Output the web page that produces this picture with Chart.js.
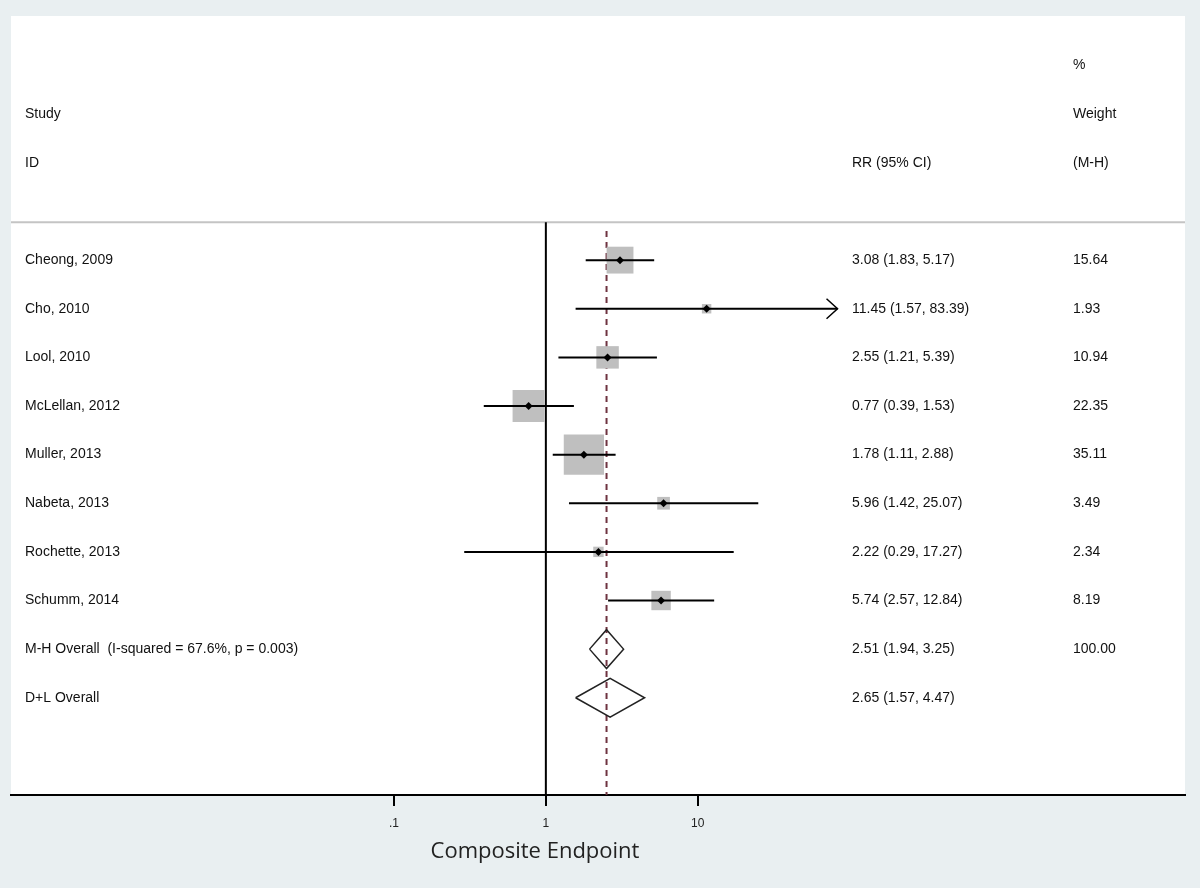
<!DOCTYPE html>
<html>
<head>
<meta charset="utf-8">
<script src="https://cdn.jsdelivr.net/npm/chart.js@4/dist/chart.umd.min.js"></script>
<style>
  html, body { margin: 0; padding: 0; background: #e9eff1; }
  canvas { display: block; }
</style>
</head>
<body>
<canvas id="forest" width="1200" height="888"></canvas>
<script>
const STUDIES = ['Cheong, 2009', 'Cho, 2010', 'Lool, 2010', 'McLellan, 2012', 'Muller, 2013', 'Nabeta, 2013', 'Rochette, 2013', 'Schumm, 2014'];
const RR = [3.08, 11.45, 2.55, 0.77, 1.78, 5.96, 2.22, 5.74];
const RR_LO = [1.83, 1.57, 1.21, 0.39, 1.11, 1.42, 0.29, 2.57];
const RR_HI = [5.17, 83.39, 5.39, 1.53, 2.88, 25.07, 17.27, 12.84];
const WEIGHTS = [15.64, 1.93, 10.94, 22.35, 35.11, 3.49, 2.34, 8.19];

const POOLED_LABELS = ['M-H Overall  (I-squared = 67.6%, p = 0.003)', 'D+L Overall'];
const POOLED_RR = [2.51, 2.65];
const POOLED_LO = [1.94, 1.57];
const POOLED_HI = [3.25, 4.47];
const POOLED_WEIGHTS = [100.00, null];

const X_TICKS = [0.1, 1, 10];
const X_TICK_LABELS = ['.1', '1', '10'];
const X_TITLE = 'Composite Endpoint';

// metan puts an arrowhead on CIs that run past this
const CI_ARROW_ABOVE = 50;

const BG = '#e9eff1';
const BOX_GREY = '#bfbfbf';
const OVERALL_DASH = '#6e3340';
const TEXT_FONT = '14px "Liberation Sans", Arial, sans-serif';

const nStudies = STUDIES.length;
const fmt = (v) => v.toFixed(2);

// rows: studies 0..7, pooled 8..9 (y axis reversed)
const markerPts = RR.map((v, i) => ({ x: v, y: i }));

const ciPts = [];
RR.forEach((v, i) => {
  ciPts.push({ x: RR_LO[i], y: i }, { x: RR_HI[i], y: i }, { x: null, y: null });
});

const diamondPts = [];
POOLED_RR.forEach((v, j) => {
  const row = nStudies + j;
  diamondPts.push(
    { x: POOLED_LO[j], y: row },
    { x: v, y: row - 0.4 },
    { x: POOLED_HI[j], y: row },
    { x: v, y: row + 0.4 },
    { x: POOLED_LO[j], y: row },
    { x: null, y: null }
  );
});

const forestDecor = {
  id: 'forestDecor',
  beforeDraw(chart) {
    const { ctx, chartArea: a } = chart;
    ctx.save();
    ctx.fillStyle = BG;
    ctx.fillRect(0, 0, chart.width, chart.height);
    ctx.fillStyle = '#fff';
    ctx.fillRect(a.left, a.top - 1, a.right - a.left, a.bottom - a.top + 1);
    ctx.restore();
  },
  beforeDatasetsDraw(chart) {
    const { ctx, chartArea: a } = chart;
    const xs = chart.scales.x, ys = chart.scales.y;
    const headRule = ys.getPixelForValue(-0.78);
    ctx.save();
    // header rule
    ctx.strokeStyle = '#c4c4c4';
    ctx.lineWidth = 2;
    ctx.beginPath();
    ctx.moveTo(a.left, headRule);
    ctx.lineTo(a.right, headRule);
    ctx.stroke();
    // line of no effect
    const x1 = xs.getPixelForValue(1);
    ctx.strokeStyle = '#000';
    ctx.beginPath();
    ctx.moveTo(x1, headRule);
    ctx.lineTo(x1, a.bottom);
    ctx.stroke();
    // pooled M-H estimate
    const xo = xs.getPixelForValue(POOLED_RR[0]);
    ctx.strokeStyle = OVERALL_DASH;
    ctx.setLineDash([6, 5]);
    ctx.beginPath();
    ctx.moveTo(xo, ys.getPixelForValue(-0.6));
    ctx.lineTo(xo, a.bottom);
    ctx.stroke();
    ctx.restore();
  },
  afterDatasetsDraw(chart) {
    const { ctx } = chart;
    const xs = chart.scales.x, ys = chart.scales.y;
    ctx.save();
    // arrowheads
    ctx.strokeStyle = '#000';
    ctx.lineWidth = 1.5;
    RR_HI.forEach((hi, i) => {
      if (hi <= CI_ARROW_ABOVE) return;
      const tx = xs.getPixelForValue(hi), ty = ys.getPixelForValue(i);
      ctx.beginPath();
      ctx.moveTo(tx - 11, ty - 10);
      ctx.lineTo(tx, ty);
      ctx.lineTo(tx - 11, ty + 10);
      ctx.stroke();
    });

    // text columns
    const colStudy = 25, colRR = 852, colW = 1073;
    ctx.fillStyle = '#111';
    ctx.font = TEXT_FONT;
    ctx.textBaseline = 'middle';
    ctx.textAlign = 'left';
    const put = (s, x, row) => ctx.fillText(s, x, ys.getPixelForValue(row));

    put('%', colW, -4);
    put('Study', colStudy, -3);
    put('Weight', colW, -3);
    put('ID', colStudy, -2);
    put('RR (95% CI)', colRR, -2);
    put('(M-H)', colW, -2);

    STUDIES.forEach((s, i) => {
      put(s, colStudy, i);
      put(`${fmt(RR[i])} (${fmt(RR_LO[i])}, ${fmt(RR_HI[i])})`, colRR, i);
      put(fmt(WEIGHTS[i]), colW, i);
    });
    POOLED_LABELS.forEach((s, j) => {
      const row = nStudies + j;
      put(s, colStudy, row);
      put(`${fmt(POOLED_RR[j])} (${fmt(POOLED_LO[j])}, ${fmt(POOLED_HI[j])})`, colRR, row);
      if (POOLED_WEIGHTS[j] != null) put(fmt(POOLED_WEIGHTS[j]), colW, row);
    });

    // axis title
    ctx.font = '22px "Open Sans", "Noto Sans", sans-serif';
    ctx.fillStyle = '#222';
    ctx.textAlign = 'center';
    ctx.fillText(X_TITLE, 535, 852);
    ctx.restore();
  },
};

Chart.defaults.font.family = '"Liberation Sans", Arial, sans-serif';
Chart.defaults.color = '#222';

new Chart(document.getElementById('forest'), {
  type: 'scatter',
  data: {
    datasets: [
      {
        // point estimates
        data: markerPts,
        pointStyle: 'rectRot',
        pointRadius: 4,
        backgroundColor: '#000',
        borderWidth: 0,
      },
      {
        // confidence intervals
        data: ciPts,
        showLine: true,
        spanGaps: false,
        pointRadius: 0,
        borderColor: '#000',
        borderWidth: 2,
      },
      {
        // weight boxes (area ~ weight)
        data: markerPts,
        pointStyle: 'rect',
        pointRadius: WEIGHTS.map((w) => 4.8 * Math.sqrt(w)),
        backgroundColor: BOX_GREY,
        borderWidth: 0,
      },
      {
        // pooled diamonds
        data: diamondPts,
        showLine: true,
        spanGaps: false,
        pointRadius: 0,
        borderColor: '#222',
        borderWidth: 1.5,
        fill: false,
      },
    ],
  },
  options: {
    responsive: false,
    animation: false,
    events: [],
    layout: { autoPadding: false, padding: { left: 11, right: 15, top: 17, bottom: 13 } },
    plugins: { legend: { display: false }, tooltip: { enabled: false } },
    scales: {
      x: {
        type: 'logarithmic',
        min: 3.25e-4,
        max: 16210,
        afterBuildTicks: (scale) => {
          scale.ticks = X_TICKS.map((v) => ({ value: v }));
        },
        afterFit: (scale) => {
          scale.height = 80;
        },
        grid: {
          display: true,
          drawOnChartArea: false,
          drawTicks: true,
          tickLength: 11,
          color: '#000',
          lineWidth: 2,
        },
        border: { display: true, color: '#000', width: 2 },
        ticks: {
          autoSkip: false,
          maxRotation: 0,
          padding: 10,
          font: { size: 12 },
          color: '#222',
          callback: (v, i) => X_TICK_LABELS[i],
        },
      },
      y: {
        type: 'linear',
        reverse: true,
        min: -5,
        max: 11,
        display: false,
      },
    },
  },
  plugins: [forestDecor],
});
</script>
</body>
</html>
